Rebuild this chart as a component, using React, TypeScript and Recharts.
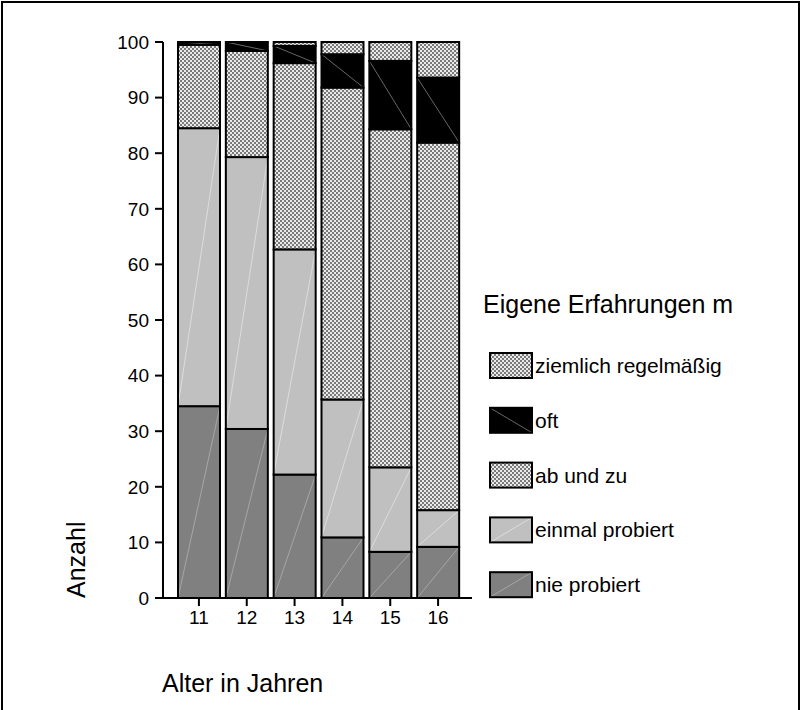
import React from 'react'
import { BarChart, Bar, XAxis, YAxis, Legend, Label } from 'recharts'

const ages = ['11', '12', '13', '14', '15', '16']
const nieProbiert = [34.5, 30.4, 22.2, 10.9, 8.3, 9.2]
const einmalProbiert = [50.0, 48.9, 40.5, 24.8, 15.2, 6.6]
const abUndZu = [15.0, 19.1, 33.5, 56.1, 60.8, 66.1]
const oft = [0.5, 1.6, 3.1, 6.0, 12.3, 11.7]
const ziemlichRegelmaessig = [0, 0, 0.7, 2.2, 3.4, 6.4]
const yTicks = [0, 10, 20, 30, 40, 50, 60, 70, 80, 90, 100]

const FONT = '"Liberation Sans", Arial, sans-serif'

// Reihenfolge im Stapel: unten -> oben
const series = [
  { key: 'nie', name: 'nie probiert', fill: '#808080', diag: 'up', diagColor: '#a6a6a6' },
  { key: 'einmal', name: 'einmal probiert', fill: '#c0c0c0', diag: 'up', diagColor: '#dcdcdc' },
  { key: 'ab', name: 'ab und zu', fill: 'url(#hatch)', diag: null, diagColor: '' },
  { key: 'oft', name: 'oft', fill: '#000000', diag: 'down', diagColor: '#666666' },
  { key: 'ziemlich', name: 'ziemlich regelmäßig', fill: 'url(#hatch)', diag: null, diagColor: '' }
]

const data = ages.map((age, i) => ({
  age,
  nie: nieProbiert[i],
  einmal: einmalProbiert[i],
  ab: abUndZu[i],
  oft: oft[i],
  ziemlich: ziemlichRegelmaessig[i]
}))

function HatchPattern({ id }: { id: string }): React.JSX.Element {
  return (
    <pattern id={id} width={4} height={4} patternUnits="userSpaceOnUse">
      <rect x={0} y={0} width={4} height={4} fill="#eaeaea" />
      <rect x={0} y={0} width={2} height={2} fill="#7a7a7a" />
      <rect x={2} y={2} width={2} height={2} fill="#7a7a7a" />
    </pattern>
  )
}

// Balkensegment mit schwarzem Rand und der feinen Diagonale
function makeShape(diag: string | null, diagColor: string) {
  return function Segment(props: any): React.JSX.Element {
    const { x, y, width, height, fill } = props
    return (
      <g>
        <rect x={x} y={y} width={width} height={height} fill={fill} />
        {diag === 'up' && height > 0 && (
          <line x1={x} y1={y + height} x2={x + width} y2={y} stroke={diagColor} strokeWidth={1} />
        )}
        {diag === 'down' && height > 0 && (
          <line x1={x} y1={y} x2={x + width} y2={y + height} stroke={diagColor} strokeWidth={1} />
        )}
        <rect x={x} y={y} width={width} height={height} fill="none" stroke="#000" strokeWidth={2} />
      </g>
    )
  }
}

function LegendContent(): React.JSX.Element {
  const items = [...series].reverse()
  return (
    <svg width={300} height={330} style={{ display: 'block', overflow: 'visible' }}>
      <defs>
        <HatchPattern id="hatchLegend" />
      </defs>
      <text x={3} y={33} fontSize={25} fontFamily={FONT} fill="#000">
        Eigene Erfahrungen m
      </text>
      {items.map((s, i) => {
        const top = 73 + i * 54.8
        const fill = s.fill === 'url(#hatch)' ? 'url(#hatchLegend)' : s.fill
        return (
          <g key={s.key}>
            <rect x={10} y={top} width={42} height={25} fill={fill} />
            {s.diag === 'up' && (
              <line x1={10} y1={top + 25} x2={52} y2={top} stroke={s.diagColor} strokeWidth={1} />
            )}
            {s.diag === 'down' && (
              <line x1={10} y1={top} x2={52} y2={top + 25} stroke={s.diagColor} strokeWidth={1} />
            )}
            <rect x={10} y={top} width={42} height={25} fill="none" stroke="#000" strokeWidth={2} />
            <text x={55} y={top + 12.5} dy="0.36em" fontSize={21} fontFamily={FONT} fill="#000">
              {s.name}
            </text>
          </g>
        )
      })}
    </svg>
  )
}

export default function App(): React.JSX.Element {
  const tickStyle = { fill: '#000', fontSize: 19, fontFamily: FONT }
  return (
    <div style={{ position: 'absolute', left: 0, top: 0, width: 801, height: 710, background: '#fff' }}>
      <BarChart
        width={801}
        height={710}
        data={data}
        margin={{ top: 42, right: 329, bottom: 82, left: 103 }}
        barSize={42}
      >
        <defs>
          <HatchPattern id="hatch" />
        </defs>

        <XAxis
          dataKey="age"
          interval={0}
          padding={{ left: 12, right: 10 }}
          height={30}
          tickSize={8}
          tickMargin={5}
          tick={tickStyle}
          stroke="#000"
          strokeWidth={2}
        >
          <Label
            content={(p: any) => (
              <text x={p.viewBox.x - 1} y={p.viewBox.y + 94} fontSize={25} fontFamily={FONT} fill="#000">
                Alter in Jahren
              </text>
            )}
          />
        </XAxis>
        <XAxis
          xAxisId="top"
          orientation="top"
          dataKey="age"
          height={0}
          tick={false}
          tickLine={false}
          stroke="#000"
          strokeWidth={2}
        />

        <YAxis
          domain={[0, 100]}
          ticks={yTicks}
          interval={0}
          width={60}
          tickSize={8}
          tickMargin={6}
          tick={tickStyle}
          stroke="#000"
          strokeWidth={2}
        >
          <Label
            content={(p: any) => (
              <text
                transform={`translate(${p.viewBox.x - 18},${p.viewBox.y + p.viewBox.height}) rotate(-90)`}
                fontSize={25}
                fontFamily={FONT}
                fill="#000"
              >
                Anzahl
              </text>
            )}
          />
        </YAxis>
        <YAxis
          yAxisId="right"
          orientation="right"
          domain={[0, 100]}
          width={0}
          tick={false}
          tickLine={false}
          stroke="#000"
          strokeWidth={2}
        />

        <Legend
          layout="vertical"
          align="center"
          verticalAlign="middle"
          content={() => <LegendContent />}
          wrapperStyle={{ left: 480, top: 280, width: 300, height: 330 }}
        />

        {series.map((s) => (
          <Bar
            key={s.key}
            dataKey={s.key}
            name={s.name}
            stackId="a"
            fill={s.fill}
            shape={makeShape(s.diag, s.diagColor)}
            isAnimationActive={false}
          />
        ))}
      </BarChart>
      <div
        style={{
          position: 'absolute',
          left: 1,
          top: 1,
          width: 799,
          height: 709,
          boxSizing: 'border-box',
          borderLeft: '2px solid #000',
          borderTop: '2px solid #000',
          borderRight: '2px solid #000',
          pointerEvents: 'none'
        }}
      />
    </div>
  )
}
